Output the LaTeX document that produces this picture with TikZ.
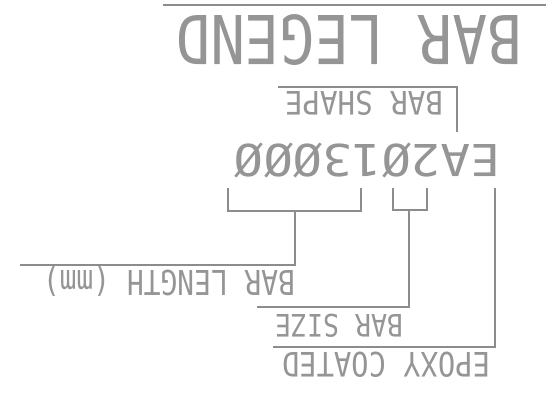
\documentclass[tikz,border=0pt]{standalone}
\usepackage{fontspec}
\setmainfont{DejaVu Sans Mono}
\usepackage{graphicx}
\definecolor{ink}{HTML}{959595}
\definecolor{wireink}{HTML}{8C8C8C}
\begin{document}
\begin{tikzpicture}[x=1pt,y=-1pt,
  lbl/.style={rotate=180,inner sep=0pt,text=ink,anchor=center},
  wire/.style={draw=wireink,line width=1.3pt}]
\useasboundingbox (0,0) rectangle (546,394);
% texts (picture printed upside down)
\node[lbl] (title) at (349,40) {\resizebox{346pt}{50pt}{BAR LEGEND}};
\node[lbl] (shape) at (364,103.5) {\resizebox{158pt}{24pt}{BAR SHAPE}};
\node[lbl] (code) at (367,160) {\resizebox*{266pt}{35pt}{EA2Ø13ØØØ}};
\node[lbl] (length) at (169,281) {\resizebox*{252pt}{30.5pt}{BAR LENGTH (mm)}};
\node[lbl] (size) at (339,326) {\resizebox{128pt}{23pt}{BAR SIZE}};
\node[lbl] (epoxy) at (386,364.5) {\resizebox{208pt}{25pt}{EPOXY COATED}};
% connector points
\coordinate (t1) at (163,5);
\coordinate (t2) at (546,5);
\coordinate (s1) at (278,87);
\coordinate (s2) at (457,87);
\coordinate (s3) at (457,132);
\coordinate (L1) at (228,188);
\coordinate (L2) at (228,211);
\coordinate (L3) at (361,211);
\coordinate (L4) at (361,188);
\coordinate (Lm) at (295,211);
\coordinate (Lc) at (295,265);
\coordinate (Le) at (20,265);
\coordinate (z1) at (393,188);
\coordinate (z2) at (393,210);
\coordinate (z3) at (427,210);
\coordinate (z4) at (427,188);
\coordinate (zm) at (409,210);
\coordinate (zc) at (409,307);
\coordinate (ze) at (257,307);
\coordinate (e1) at (495,188);
\coordinate (ec) at (495,347);
\coordinate (ee) at (273,347);
% connectors
\draw[wire] (t1) -- (t2);
\draw[wire] (s1) -- (s2) -- (s3);
\draw[wire] (L1) -- (L2) -- (L3) -- (L4);
\draw[wire] (Lm) -- (Lc) -- (Le);
\draw[wire] (z1) -- (z2) -- (z3) -- (z4);
\draw[wire] (zm) -- (zc) -- (ze);
\draw[wire] (e1) -- (ec) -- (ee);
\end{tikzpicture}
\end{document}
